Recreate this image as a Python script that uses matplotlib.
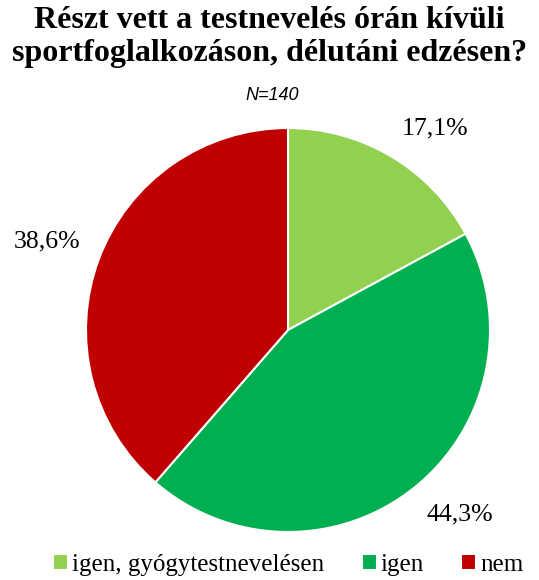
import numpy as np
import matplotlib.pyplot as plt

categories = ['igen, gyógytestnevelésen', 'igen', 'nem']
values = [17.1, 44.3, 38.6]
colors = ['#92D050', '#00B050', '#C00000']

plt.rcParams['font.family'] = ['Liberation Serif', 'DejaVu Serif']

fig = plt.figure(figsize=(5.39, 5.8), dpi=100)
fig.patch.set_facecolor('white')

# pie axes: centre ~ (288, 330) px, radius ~ 202 px
cx, cy, r = 288, 330, 202
ax = fig.add_axes([(cx - r) / 539, (580 - cy - r) / 580, 2 * r / 539, 2 * r / 580])

wedges, _ = ax.pie(values, colors=colors, startangle=90, counterclock=False,
                   wedgeprops=dict(edgecolor='white', linewidth=1.5))
ax.set_xlim(-1, 1)
ax.set_ylim(-1, 1)

# labels just outside the wedge edge, anchored away from the pie
for w, v in zip(wedges, values):
    mid = np.deg2rad((w.theta1 + w.theta2) / 2)
    x, y = 1.1 * np.cos(mid), 1.1 * np.sin(mid)
    ax.text(x, y, ('%.1f%%' % v).replace('.', ','), fontsize=18.5,
            ha='left' if x > 0 else 'right', va='bottom' if y > 0 else 'top',
            clip_on=False)

fig.text(0.5, 0.99, 'Részt vett a testnevelés órán kívüli\nsportfoglalkozáson, délutáni edzésen?',
         ha='center', va='top', fontsize=23, fontweight='bold', linespacing=1.2)
fig.text(0.505, 0.835, 'N=140', ha='center', va='center', fontsize=13,
         style='italic', family='Liberation Sans')

fig.legend(wedges, categories, loc='center', bbox_to_anchor=(0.535, 0.026),
           ncol=3, frameon=False, fontsize=18, handlelength=0.6, handleheight=0.6,
           handletextpad=0.15, columnspacing=1.5)

fig.savefig('out.png', dpi=100)
